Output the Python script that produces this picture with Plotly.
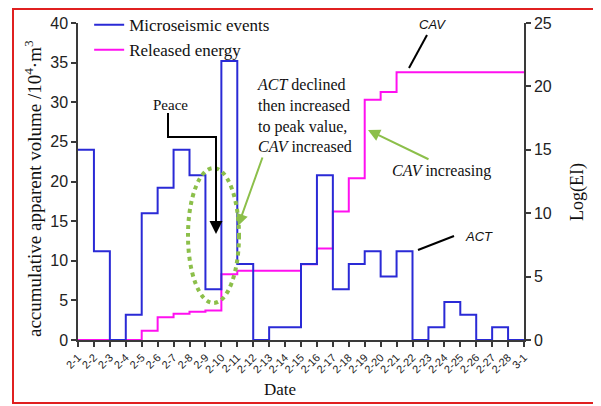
import plotly.graph_objects as go

# x-axis categories (day index 0..28)
dates = ['2-1', '2-2', '2-3', '2-4', '2-5', '2-6', '2-7', '2-8', '2-9', '2-10',
         '2-11', '2-12', '2-13', '2-14', '2-15', '2-16', '2-17', '2-18', '2-19',
         '2-20', '2-21', '2-22', '2-23', '2-24', '2-25', '2-26', '2-27', '2-28', '3-1']

# daily microseismic events (right axis scale)
events = [15, 7, 0, 2, 10, 12, 15, 13, 4, 22, 6, 0, 1, 1, 6, 13, 4, 6, 7, 5, 7,
          0, 1, 3, 2, 0, 1, 0]

# cumulative released energy (left axis scale)
energy = [0, 0, 0, 0, 1.17, 2.86, 3.3, 3.57, 3.72, 8.3, 8.74, 8.74, 8.74, 8.74,
          9.55, 11.56, 16.2, 20.4, 30.3, 31.3, 33.8, 33.8, 33.8, 33.8, 33.8, 33.8,
          33.8, 33.8]

SERIF = 'Liberation Serif'
SANS = 'Liberation Sans'
AX = '#3a3a3a'
GREEN = '#8cbf4a'

# page body has an 8px margin, so the figure is shrunk and shifted accordingly
OFF = 8
L, T, PW, PH = 78, 23, 446, 317   # plot area in window pixels

xs = list(range(len(dates)))

fig = go.Figure()
fig.add_trace(go.Scatter(
    x=xs, y=energy + [energy[-1]], mode='lines', line_shape='hv',
    line=dict(color='#ff10f0', width=2), name='Released energy',
    legendrank=2, yaxis='y'))
fig.add_trace(go.Scatter(
    x=xs, y=events + [events[-1]], mode='lines', line_shape='hv',
    line=dict(color='#2a2ad6', width=2), name='Microseismic events',
    legendrank=1, yaxis='y2'))

axis_common = dict(showgrid=False, zeroline=False, showline=True, linecolor=AX,
                   linewidth=1.5, ticks='outside', ticklen=5, tickcolor=AX,
                   tickwidth=1.5, automargin=False)

W, H = 601 - OFF, 406 - OFF
fig.update_layout(
    width=W, height=H,
    margin=dict(l=L - OFF, r=W - (L - OFF) - PW, t=T - OFF, b=H - (T - OFF) - PH,
                autoexpand=False),
    paper_bgcolor='white', plot_bgcolor='white',
    showlegend=True,
    legend=dict(x=0.025, y=1.05, xanchor='left', yanchor='top',
                bgcolor='rgba(0,0,0,0)', font=dict(family=SERIF, size=17, color='#111'),
                tracegroupgap=0, itemwidth=30),
    xaxis=dict(range=[0, 28], tickmode='array', tickvals=xs, ticktext=dates,
               tickangle=-45, tickfont=dict(family=SANS, size=11, color='#222'),
               **axis_common),
    yaxis=dict(range=[0, 40], tickvals=[0, 5, 10, 15, 20, 25, 30, 35, 40],
               tickfont=dict(family=SANS, size=16, color='#222'), **axis_common),
    yaxis2=dict(range=[0, 25], tickvals=[0, 5, 10, 15, 20, 25], overlaying='y',
                side='right', anchor='x',
                tickfont=dict(family=SANS, size=16, color='#222'), **axis_common),
)

def px2x(px):
    return (px - L) / (PW / 28)

def px2y(py):
    return (T + PH - py) / (PH / 40)

def ppx(px):
    return (px - L) / PW

def ppy(py):
    return (T + PH - py) / PH

shapes = []
# red frame around the figure
shapes.append(dict(type='rect', xref='paper', yref='paper',
                   x0=ppx(13), x1=ppx(595), y0=ppy(403), y1=ppy(OFF + 1),
                   line=dict(color='#e02020', width=2)))
# dotted green ellipse
shapes.append(dict(type='circle', xref='x', yref='y',
                   x0=px2x(188), x1=px2x(239), y0=px2y(303), y1=px2y(168),
                   line=dict(color=GREEN, width=4, dash='dot')))
# Peace elbow
shapes.append(dict(type='path', xref='x', yref='y',
                   path=f'M {px2x(168)},{px2y(113)} L {px2x(168)},{px2y(137)} '
                        f'L {px2x(216)},{px2y(137)} L {px2x(216)},{px2y(222)}',
                   line=dict(color='black', width=2)))
# leader lines for ACT and CAV
shapes.append(dict(type='line', xref='x', yref='y',
                   x0=px2x(418), y0=px2y(250), x1=px2x(454), y1=px2y(236),
                   line=dict(color='black', width=2)))
shapes.append(dict(type='line', xref='x', yref='y',
                   x0=px2x(409), y0=px2y(68), x1=px2x(427), y1=px2y(35),
                   line=dict(color='black', width=2)))
fig.update_layout(shapes=shapes)

ann = []
ann.append(dict(x=px2x(170), y=px2y(105), xref='x', yref='y', text='Peace',
                showarrow=False, font=dict(family=SERIF, size=15, color='#111')))
ann.append(dict(x=px2x(216), y=px2y(234), ax=px2x(216), ay=px2y(213),
                xref='x', yref='y', axref='x', ayref='y', text='', showarrow=True,
                arrowhead=2, arrowsize=1.3, arrowwidth=2, arrowcolor='black'))
ann.append(dict(x=px2x(255), y=px2y(115), xref='x', yref='y', xanchor='left',
                yanchor='middle', align='left', showarrow=False,
                text='<i>ACT</i> declined<br>then increased<br>to peak value,<br><i>CAV</i> increased',
                font=dict(family=SERIF, size=16, color='#111')))
ann.append(dict(x=px2x(238), y=px2y(226), ax=px2x(263), ay=px2y(156),
                xref='x', yref='y', axref='x', ayref='y', text='', showarrow=True,
                arrowhead=2, arrowsize=1.2, arrowwidth=2, arrowcolor=GREEN))
ann.append(dict(x=px2x(368), y=px2y(130), ax=px2x(430), ay=px2y(160),
                xref='x', yref='y', axref='x', ayref='y', text='', showarrow=True,
                arrowhead=2, arrowsize=1.2, arrowwidth=2, arrowcolor=GREEN))
ann.append(dict(x=px2x(441), y=px2y(171), xref='x', yref='y', showarrow=False,
                text='<i>CAV</i> increasing',
                font=dict(family=SERIF, size=16, color='#111')))
ann.append(dict(x=px2x(479), y=px2y(236), xref='x', yref='y', showarrow=False,
                text='<i>ACT</i>', font=dict(family=SANS, size=13, color='#111')))
ann.append(dict(x=px2x(432), y=px2y(24), xref='x', yref='y', showarrow=False,
                text='<i>CAV</i>', font=dict(family=SANS, size=13, color='#111')))
# axis titles
ann.append(dict(x=ppx(280), y=ppy(389), xref='paper', yref='paper',
                xanchor='center', yanchor='middle', showarrow=False, text='Date',
                font=dict(family=SERIF, size=17, color='#111')))
ann.append(dict(x=ppx(33), y=ppy(189), xref='paper', yref='paper',
                xanchor='center', yanchor='middle', showarrow=False, textangle=-90,
                text='accumulative apparent volume /10<sup>4</sup>·m<sup>3</sup>',
                font=dict(family=SERIF, size=19, color='#111')))
ann.append(dict(x=ppx(577), y=ppy(192), xref='paper', yref='paper',
                xanchor='center', yanchor='middle', showarrow=False, textangle=-90,
                text='Log(EI)', font=dict(family=SERIF, size=18, color='#111')))
fig.update_layout(annotations=ann)

fig.write_html('out.html')
